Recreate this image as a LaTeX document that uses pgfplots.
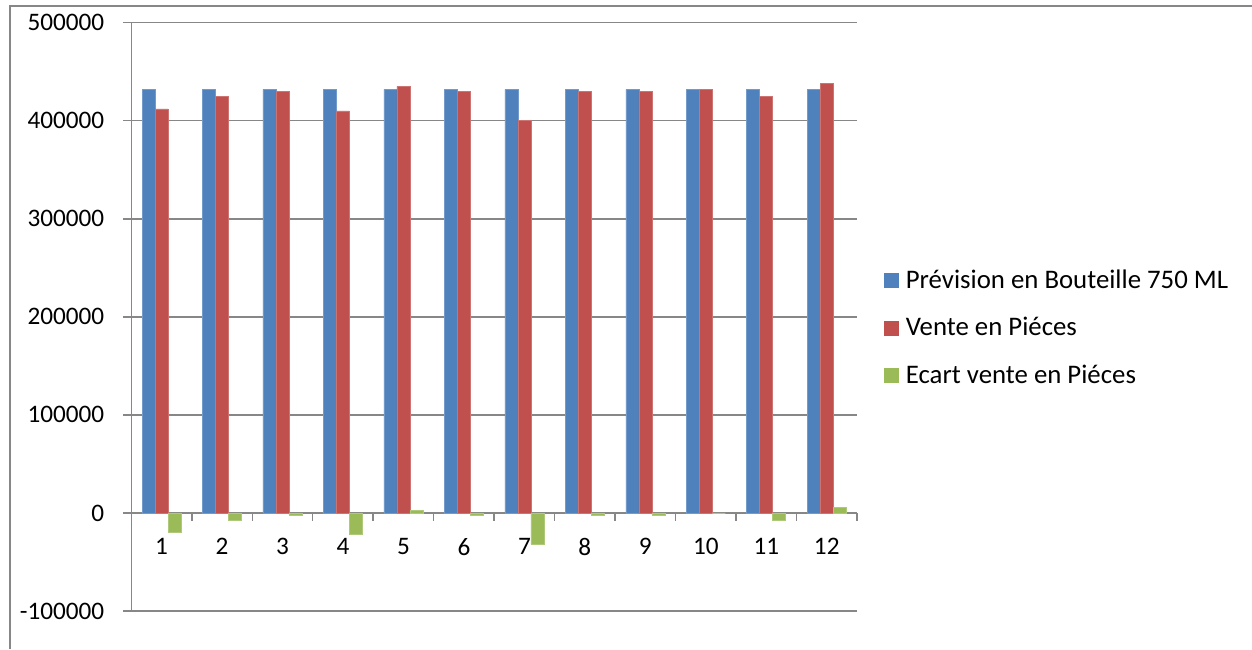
\documentclass[border=0pt]{standalone}
\usepackage{pgfplots}
\usepackage{pgfplotstable}
\pgfplotsset{compat=1.18}
\usepackage{fontspec}
\setmainfont{Carlito}

\definecolor{prevblue}{HTML}{4F81BD}
\definecolor{ventered}{HTML}{C0504D}
\definecolor{ecartgreen}{HTML}{9BBB59}
\definecolor{axgray}{HTML}{878787}

% Monthly forecast, sales and gap (pieces)
\pgfplotstableread{
mois prevision vente ecart
1  432000 412000 -20000
2  432000 425000  -7000
3  432000 430000  -2000
4  432000 410000 -22000
5  432000 435000   3000
6  432000 430000  -2000
7  432000 400000 -32000
8  432000 430000  -2000
9  432000 430000  -2000
10 432000 432000      0
11 432000 425000  -7000
12 432000 438000   6000
}\ventes

\begin{document}
\begin{tikzpicture}
\path[use as bounding box] (0,0) rectangle (626pt,324.5pt);
% chart area frame
\draw[axgray, line width=1pt] (5pt,0) -- (5pt,321.5pt) -- (626pt,321.5pt);
\begin{axis}[
  at={(65.65pt,19pt)}, anchor=south west,
  width=362.85pt, height=294.15pt, scale only axis,
  ybar=0pt, bar width=6.5pt,
  xmin=0.5, xmax=12.5,
  ymin=-100000, ymax=500000,
  axis y line*=left, axis x line*=middle,
  xtick={1,...,12},
  minor xtick={0.5,1.5,...,12.5},
  major x tick style={draw=none},
  minor x tick style={axgray, line width=0.75pt},
  minor tick length=4pt,
  xtick align=outside,
  ytick={-100000,0,...,500000},
  ytick align=outside,
  major y tick style={axgray, line width=0.75pt},
  major tick length=4pt,
  scaled y ticks=false,
  yticklabel={\pgfmathprintnumber[fixed, precision=0, 1000 sep={}, assume math mode=true]{\tick}},
  xticklabel={\pgfmathprintnumber[fixed, precision=0, assume math mode=true]{\tick}},
  ymajorgrids,
  major grid style={axgray, line width=0.75pt},
  axis line style={axgray, line width=0.75pt},
  tick label style={font=\fontsize{12.6}{15}\selectfont, text=black},
  xticklabel style={yshift=-5pt},
  yticklabel style={xshift=-6pt},
  legend style={at={(axis description cs:1.037,0.481)}, anchor=west,
    draw=none, fill=none, inner sep=0pt, row sep=9pt,
    font=\fontsize{13.4}{16}\selectfont},
  legend cell align=left,
]
\addplot[fill=prevblue, draw=prevblue!80!white, line width=0.3pt,
  legend image code/.code={\fill[prevblue] (0pt,-3.5pt) rectangle (7pt,3.5pt); \path (8.5pt,0pt);}]
  table[x=mois, y=prevision] {\ventes};
\addlegendentry{Prévision en Bouteille 750 ML}
\addplot[fill=ventered, draw=ventered!80!white, line width=0.3pt,
  legend image code/.code={\fill[ventered] (0pt,-3.5pt) rectangle (7pt,3.5pt); \path (8.5pt,0pt);}]
  table[x=mois, y=vente] {\ventes};
\addlegendentry{Vente en Piéces}
\addplot[fill=ecartgreen, draw=ecartgreen!80!white, line width=0.3pt,
  legend image code/.code={\fill[ecartgreen] (0pt,-3.5pt) rectangle (7pt,3.5pt); \path (8.5pt,0pt);}]
  table[x=mois, y=ecart] {\ventes};
\addlegendentry{Ecart vente en Piéces}
\end{axis}
\end{tikzpicture}
\end{document}
